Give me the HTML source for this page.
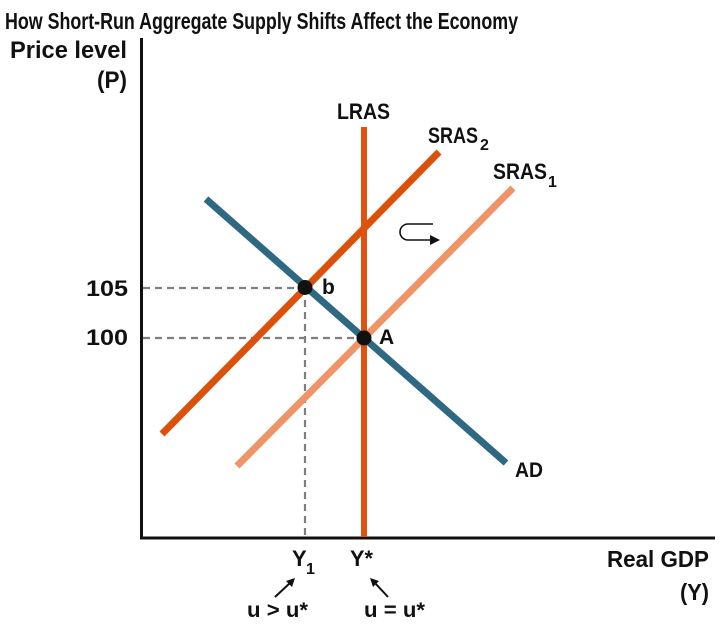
<!DOCTYPE html>
<html>
<head>
<meta charset="utf-8">
<style>
  html, body { margin: 0; padding: 0; background: #fff; }
  svg { display: block; }
  text { font-family: "Liberation Sans", "DejaVu Sans", sans-serif; fill: #111; }
  .b { font-weight: bold; }
</style>
</head>
<body>
<svg width="725" height="628" viewBox="0 0 725 628" xmlns="http://www.w3.org/2000/svg">
  <rect width="725" height="628" fill="#fff"/>

  <!-- Title -->
  <text x="5" y="29" font-size="23" font-weight="bold" textLength="513" lengthAdjust="spacingAndGlyphs">How Short-Run Aggregate Supply Shifts Affect the Economy</text>

  <!-- Axis labels -->
  <text class="b" x="10" y="58" font-size="24" textLength="117" lengthAdjust="spacingAndGlyphs">Price level</text>
  <text class="b" x="97" y="88" font-size="24" textLength="30" lengthAdjust="spacingAndGlyphs">(P)</text>
  <text class="b" x="607" y="567" font-size="23" textLength="102" lengthAdjust="spacingAndGlyphs">Real GDP</text>
  <text class="b" x="680" y="600" font-size="23" textLength="29" lengthAdjust="spacingAndGlyphs">(Y)</text>

  <!-- Axes -->
  <line x1="141.5" y1="38" x2="141.5" y2="539" stroke="#111" stroke-width="3"/>
  <line x1="140" y1="538" x2="715" y2="538" stroke="#111" stroke-width="3"/>

  <!-- Dashed guide lines -->
  <g stroke="#7f7f7f" stroke-width="2.2" stroke-dasharray="7,5" fill="none">
    <line x1="143" y1="288" x2="305" y2="288"/>
    <line x1="143" y1="338" x2="364" y2="338"/>
    <line x1="305" y1="288" x2="305" y2="536"/>
  </g>

  <!-- SRAS1 -->
  <line x1="237" y1="466" x2="513" y2="188" stroke="#ef9466" stroke-width="7"/>
  <!-- SRAS2 -->
  <line x1="162" y1="434" x2="439" y2="152" stroke="#db510c" stroke-width="7"/>
  <!-- AD -->
  <line x1="206" y1="199" x2="506" y2="463" stroke="#2f6882" stroke-width="7"/>
  <!-- LRAS -->
  <line x1="364" y1="127" x2="364" y2="537" stroke="#e0530e" stroke-width="6"/>

  <!-- Points -->
  <circle cx="305" cy="287.5" r="7.5" fill="#111"/>
  <circle cx="364" cy="338" r="7.5" fill="#111"/>

  <!-- Curve labels -->
  <text class="b" x="337" y="119" font-size="22" textLength="53" lengthAdjust="spacingAndGlyphs">LRAS</text>
  <text class="b" x="428" y="143" font-size="22" textLength="50" lengthAdjust="spacingAndGlyphs">SRAS</text>
  <text class="b" x="480" y="150" font-size="16">2</text>
  <text class="b" x="493" y="179" font-size="22" textLength="54" lengthAdjust="spacingAndGlyphs">SRAS</text>
  <text class="b" x="548" y="187" font-size="16">1</text>
  <text class="b" x="515" y="477" font-size="21" textLength="28" lengthAdjust="spacingAndGlyphs">AD</text>
  <text class="b" x="322" y="294" font-size="21">b</text>
  <text class="b" x="379" y="344" font-size="21">A</text>

  <!-- Price labels -->
  <text class="b" x="86" y="296" font-size="22" textLength="42" lengthAdjust="spacingAndGlyphs">105</text>
  <text class="b" x="86" y="345" font-size="22" textLength="42" lengthAdjust="spacingAndGlyphs">100</text>

  <!-- Shift arrow -->
  <path d="M433,224 L408,224 A8,8 0 0 0 408,240 L432,240" fill="none" stroke="#111" stroke-width="1.6"/>
  <path d="M430,235 L440,240 L430,245 Z" fill="#111"/>

  <!-- X labels -->
  <text class="b" x="292" y="566" font-size="22">Y</text>
  <text class="b" x="306" y="574" font-size="16">1</text>
  <text class="b" x="350" y="566" font-size="22" textLength="23" lengthAdjust="spacingAndGlyphs">Y*</text>

  <!-- Small arrows -->
  <line x1="275" y1="597" x2="290" y2="583" stroke="#111" stroke-width="2"/>
  <path d="M295,578 L286,581 L292,587 Z" fill="#111"/>
  <line x1="388" y1="597" x2="375" y2="583" stroke="#111" stroke-width="2"/>
  <path d="M370,578 L373,587 L379,581 Z" fill="#111"/>

  <text class="b" x="247" y="617" font-size="21" textLength="61" lengthAdjust="spacingAndGlyphs">u &gt; u*</text>
  <text class="b" x="364" y="617" font-size="21" textLength="61" lengthAdjust="spacingAndGlyphs">u = u*</text>
</svg>
</body>
</html>
